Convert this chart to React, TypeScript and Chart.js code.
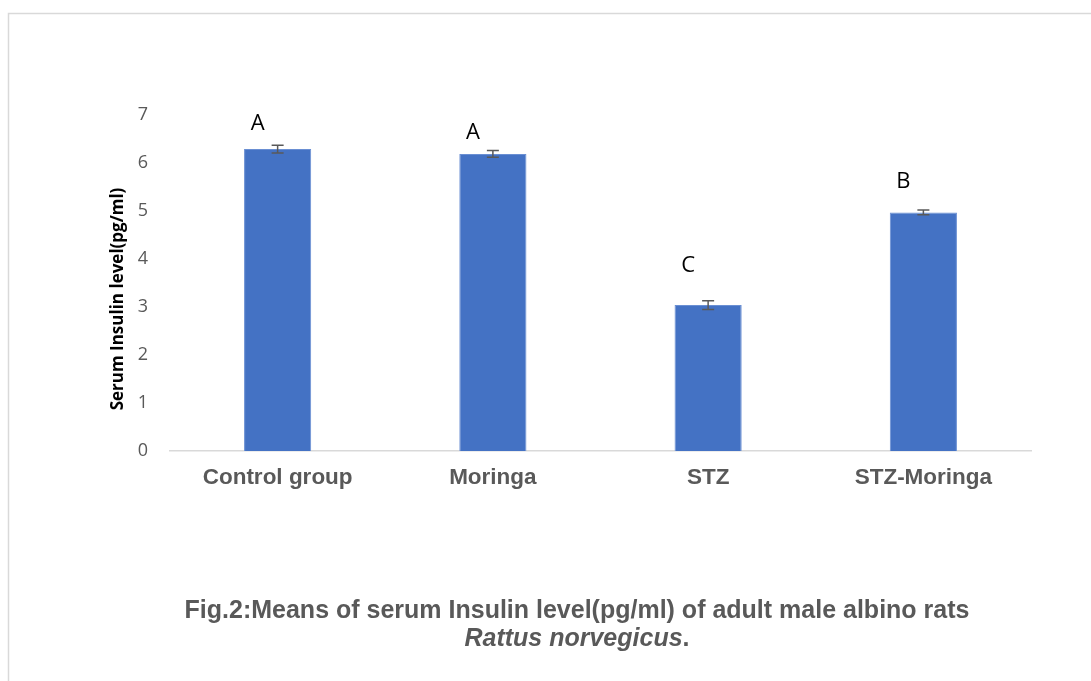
import React, { useEffect, useRef } from "react";
import { Chart, registerables } from "chart.js";

Chart.register(...registerables);

const categories = ["Control group", "Moringa", "STZ", "STZ-Moringa"];
const means = [6.29, 6.19, 3.04, 4.97];
const errors = [0.08, 0.07, 0.09, 0.05];
const letters = ["A", "A", "C", "B"];
const letterLevels = [6.81, 6.63, 3.85, 5.6];
const yTicks = [0, 1, 2, 3, 4, 5, 6, 7];
const yTitle = "Serum Insulin level(pg/ml)";

const overlay = {
  id: "overlay",
  beforeDraw(chart: any) {
    const ctx = chart.ctx;
    ctx.save();
    ctx.strokeStyle = "#d9d9d9";
    ctx.lineWidth = 1.5;
    ctx.beginPath();
    ctx.moveTo(8.5, chart.height + 2);
    ctx.lineTo(8.5, 13.5);
    ctx.lineTo(chart.width + 2, 13.5);
    ctx.stroke();
    ctx.restore();
  },
  afterDatasetsDraw(chart: any) {
    const ctx = chart.ctx;
    const xs = chart.scales.x;
    const ys = chart.scales.y;
    ctx.save();
    // error bars
    ctx.strokeStyle = "#595959";
    ctx.lineWidth = 1.5;
    means.forEach((m, i) => {
      const x = xs.getPixelForValue(i);
      const yt = ys.getPixelForValue(m + errors[i]);
      const yb = ys.getPixelForValue(m - errors[i]);
      ctx.beginPath();
      ctx.moveTo(x, yt);
      ctx.lineTo(x, yb);
      ctx.moveTo(x - 6, yt);
      ctx.lineTo(x + 6, yt);
      ctx.moveTo(x - 6, yb);
      ctx.lineTo(x + 6, yb);
      ctx.stroke();
    });
    // significance letters
    ctx.fillStyle = "#000000";
    ctx.font = "22px 'Open Sans'";
    ctx.textAlign = "center";
    ctx.textBaseline = "middle";
    letters.forEach((l, i) => {
      const x = xs.getPixelForValue(i) - 20;
      const y = ys.getPixelForValue(letterLevels[i]);
      ctx.fillText(l, x, y);
    });
    // y title
    ctx.translate(118, (chart.chartArea.top + chart.chartArea.bottom) / 2 + 16);
    ctx.rotate(-Math.PI / 2);
    ctx.font = "bold 17px 'Open Sans'";
    ctx.fillText(yTitle, 0, 0);
    ctx.restore();
  },
};

export default function App() {
  const ref = useRef<HTMLCanvasElement>(null);
  useEffect(() => {
    if (!ref.current) return;
    const chart = new Chart(ref.current, {
      type: "bar",
      data: {
        labels: categories,
        datasets: [
          {
            data: means,
            backgroundColor: "#4472C4",
            borderColor: "#6a8fd3",
            borderWidth: 1,
            categoryPercentage: 1,
            barPercentage: 0.312,
          },
        ],
      },
      options: {
        responsive: false,
        animation: false,
        layout: { padding: { left: 0, top: 115, right: 60, bottom: 170 } },
        plugins: { legend: { display: false }, tooltip: { enabled: false }, title: { display: false } },
        scales: {
          x: {
            grid: { display: false, drawTicks: false },
            border: { display: true, color: "#d9d9d9", width: 1.5 },
            ticks: {
              color: "#595959",
              padding: 13,
              font: { family: "'Liberation Sans'", size: 22.5, weight: "bold" },
            },
            afterFit: (s: any) => {
              s.height = 60;
            },
          },
          y: {
            min: 0,
            max: 7,
            grid: { display: false, drawTicks: false },
            border: { display: false },
            afterBuildTicks: (s: any) => {
              s.ticks = yTicks.map((v) => ({ value: v }));
            },
            ticks: {
              color: "#595959",
              padding: 22,
              font: { family: "'Open Sans'", size: 18 },
            },
            afterFit: (s: any) => {
              s.width = 170;
            },
          },
        },
      },
      plugins: [overlay],
    });
    return () => chart.destroy();
  }, []);

  const captionStyle: React.CSSProperties = {
    position: "absolute",
    left: 577,
    top: 595,
    transform: "translateX(-50%)",
    textAlign: "center",
    whiteSpace: "nowrap",
    fontFamily: "'Liberation Sans', Arial, sans-serif",
    fontWeight: "bold",
    fontSize: 25,
    lineHeight: "28px",
    color: "#595959",
  };

  return (
    <div style={{ position: "absolute", left: 0, top: 0, width: 1091, height: 681, background: "#fff", overflow: "hidden" }}>
      <canvas ref={ref} width={1091} height={681} style={{ position: "absolute", left: 0, top: 0 }} />
      <div style={captionStyle}>
        <div>Fig.2:Means of serum Insulin level(pg/ml) of adult male albino rats</div>
        <div>
          <i>Rattus norvegicus</i>.
        </div>
      </div>
    </div>
  );
}
